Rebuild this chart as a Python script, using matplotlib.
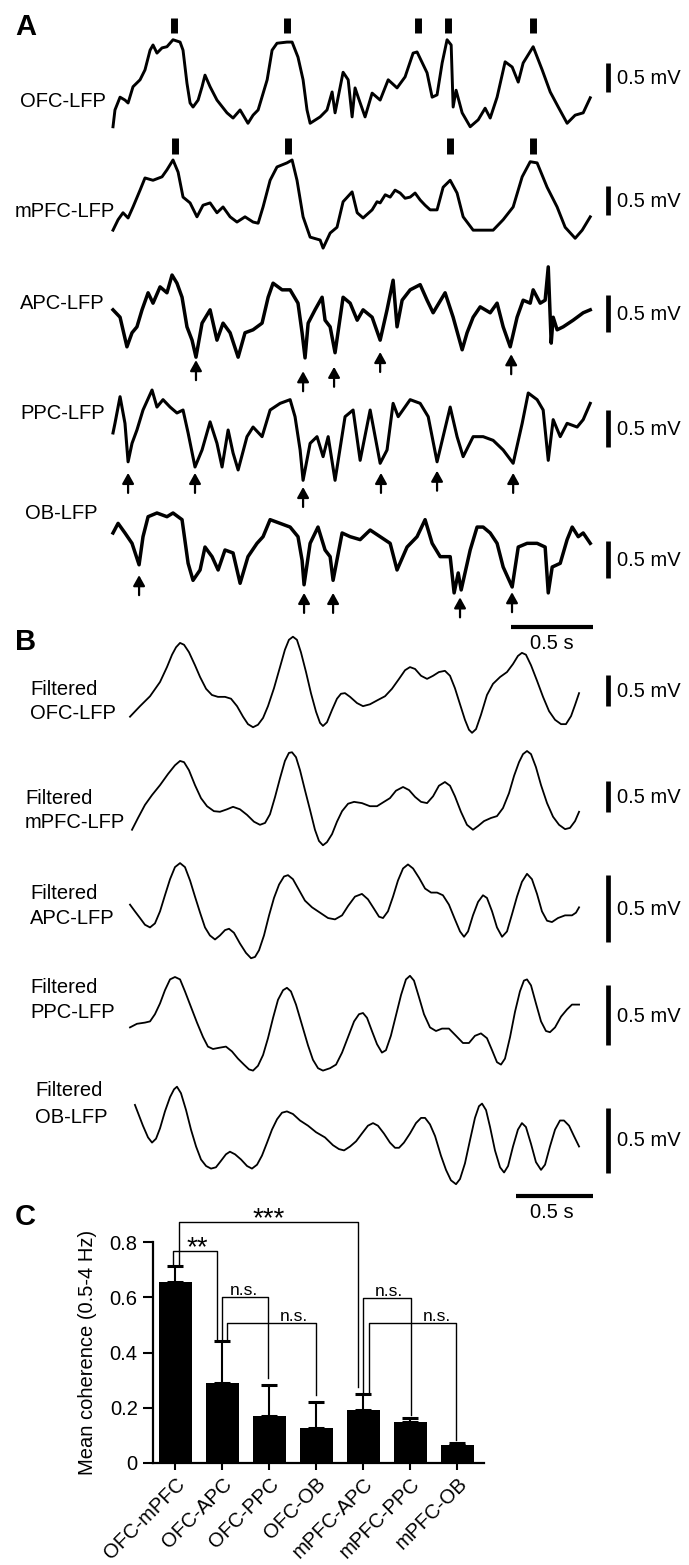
import matplotlib.pyplot as plt
import matplotlib.transforms as mtransforms
import numpy as np

plt.rcParams['font.family'] = ['Liberation Sans', 'DejaVu Sans']
plt.rcParams['font.size'] = 14.5

# ---------------- panel A: raw LFP, (time s, mV) ----------------
ofc_lfp = np.array([
    [0.000, -0.72], [0.012, -0.43], [0.043, -0.21], [0.073, -0.26], [0.092, -0.31],
    [0.122, -0.03], [0.165, 0.09], [0.195, 0.26], [0.226, 0.60], [0.244, 0.69],
    [0.268, 0.55], [0.299, 0.64], [0.329, 0.66], [0.366, 0.78], [0.409, 0.74],
    [0.427, 0.60], [0.451, 0.03], [0.470, -0.31], [0.488, -0.38], [0.519, -0.26],
    [0.543, -0.03], [0.561, 0.17], [0.592, -0.03], [0.634, -0.26], [0.695, -0.48],
    [0.732, -0.57], [0.775, -0.43], [0.823, -0.66], [0.854, -0.52], [0.885, -0.43],
    [0.940, 0.09], [0.970, 0.60], [1.000, 0.72], [1.061, 0.74], [1.092, 0.74],
    [1.128, 0.48], [1.159, 0.09], [1.183, -0.43], [1.202, -0.66], [1.263, -0.55],
    [1.305, -0.43], [1.336, -0.12], [1.354, -0.48], [1.403, 0.22], [1.434, 0.09],
    [1.458, -0.55], [1.476, -0.05], [1.495, -0.21], [1.537, -0.55], [1.580, -0.14],
    [1.629, -0.26], [1.678, 0.09], [1.732, -0.05], [1.781, 0.14], [1.830, 0.55],
    [1.854, 0.57], [1.915, 0.21], [1.946, -0.21], [1.976, -0.17], [2.007, 0.38],
    [2.037, 0.78], [2.062, 0.69], [2.074, -0.38], [2.092, -0.09], [2.129, -0.48],
    [2.178, -0.72], [2.227, -0.60], [2.269, -0.40], [2.300, -0.57], [2.342, -0.21],
    [2.391, 0.40], [2.434, 0.31], [2.471, 0.05], [2.501, 0.38], [2.562, 0.66],
    [2.617, 0.26], [2.666, -0.12], [2.715, -0.38], [2.769, -0.66], [2.818, -0.52],
    [2.867, -0.48], [2.910, -0.22]])

mpfc_lfp = np.array([
    [0.000, -0.52], [0.031, -0.34], [0.061, -0.22], [0.092, -0.31], [0.122, -0.12],
    [0.165, 0.17], [0.195, 0.38], [0.244, 0.34], [0.299, 0.40], [0.329, 0.52],
    [0.366, 0.69], [0.397, 0.48], [0.427, 0.05], [0.470, -0.05], [0.512, -0.29],
    [0.549, -0.09], [0.592, -0.05], [0.634, -0.22], [0.671, -0.12], [0.714, -0.29],
    [0.756, -0.38], [0.805, -0.29], [0.854, -0.38], [0.885, -0.40], [0.915, -0.12],
    [0.958, 0.34], [1.000, 0.57], [1.061, 0.64], [1.092, 0.69], [1.122, 0.34],
    [1.159, -0.29], [1.202, -0.64], [1.263, -0.69], [1.281, -0.83], [1.324, -0.57],
    [1.366, -0.47], [1.403, -0.03], [1.458, 0.14], [1.489, -0.22], [1.525, -0.31],
    [1.580, -0.17], [1.610, -0.03], [1.629, -0.05], [1.660, 0.09], [1.690, 0.05],
    [1.720, 0.17], [1.751, 0.12], [1.781, 0.03], [1.812, 0.05], [1.842, 0.12],
    [1.873, 0.00], [1.903, -0.09], [1.934, -0.17], [1.976, -0.17], [2.013, 0.22],
    [2.056, 0.34], [2.098, 0.12], [2.135, -0.29], [2.196, -0.52], [2.257, -0.52],
    [2.318, -0.52], [2.379, -0.34], [2.440, -0.12], [2.495, 0.40], [2.544, 0.66],
    [2.586, 0.64], [2.647, 0.22], [2.708, -0.12], [2.757, -0.47], [2.818, -0.66],
    [2.861, -0.52], [2.910, -0.29]])

apc_lfp = np.array([
    [0.000, 0.07], [0.043, -0.03], [0.085, -0.43], [0.116, -0.24], [0.146, -0.16],
    [0.177, 0.07], [0.214, 0.30], [0.244, 0.16], [0.287, 0.38], [0.329, 0.30],
    [0.360, 0.54], [0.390, 0.43], [0.421, 0.24], [0.451, -0.16], [0.482, -0.34],
    [0.506, -0.57], [0.543, -0.11], [0.592, 0.07], [0.634, -0.34], [0.671, -0.11],
    [0.714, -0.24], [0.763, -0.57], [0.805, -0.24], [0.854, -0.20], [0.909, -0.11],
    [0.946, 0.24], [0.976, 0.43], [1.031, 0.34], [1.080, 0.34], [1.128, 0.16],
    [1.153, -0.24], [1.171, -0.58], [1.190, -0.11], [1.232, 0.07], [1.275, 0.24],
    [1.293, -0.07], [1.324, -0.16], [1.354, -0.51], [1.403, 0.24], [1.446, 0.16],
    [1.489, -0.07], [1.525, 0.07], [1.580, -0.03], [1.629, -0.34], [1.671, 0.07],
    [1.708, 0.47], [1.732, -0.16], [1.763, 0.20], [1.812, 0.34], [1.873, 0.41],
    [1.915, 0.20], [1.952, 0.03], [2.025, 0.30], [2.074, -0.03], [2.129, -0.47],
    [2.159, -0.24], [2.196, -0.03], [2.239, 0.11], [2.300, 0.03], [2.342, 0.16],
    [2.379, -0.16], [2.422, -0.43], [2.464, -0.03], [2.501, 0.20], [2.544, 0.16],
    [2.562, 0.34], [2.605, 0.16], [2.635, 0.20], [2.654, 0.65], [2.672, -0.38],
    [2.684, -0.03], [2.708, -0.20], [2.745, -0.16], [2.806, -0.07], [2.867, 0.03],
    [2.910, 0.07]])

ppc_lfp = np.array([
    [0.000, -0.04], [0.012, 0.09], [0.043, 0.45], [0.073, 0.09], [0.092, -0.43],
    [0.116, -0.18], [0.146, 0.00], [0.183, 0.27], [0.238, 0.54], [0.268, 0.31],
    [0.305, 0.41], [0.348, 0.31], [0.390, 0.23], [0.427, 0.27], [0.458, -0.04],
    [0.500, -0.50], [0.543, -0.27], [0.592, 0.11], [0.634, -0.18], [0.665, -0.50],
    [0.702, 0.00], [0.732, -0.31], [0.763, -0.54], [0.817, -0.09], [0.854, 0.04],
    [0.909, -0.09], [0.958, 0.27], [1.019, 0.36], [1.080, 0.41], [1.110, 0.18],
    [1.141, -0.27], [1.159, -0.68], [1.202, -0.18], [1.244, -0.09], [1.281, -0.36],
    [1.312, -0.09], [1.354, -0.68], [1.415, 0.18], [1.464, 0.27], [1.507, -0.41],
    [1.568, 0.27], [1.629, -0.45], [1.671, -0.27], [1.708, 0.36], [1.739, 0.18],
    [1.812, 0.41], [1.873, 0.36], [1.922, 0.18], [1.976, -0.43], [2.056, 0.31],
    [2.098, -0.09], [2.135, -0.36], [2.196, -0.09], [2.257, -0.09], [2.318, -0.14],
    [2.379, -0.27], [2.440, -0.45], [2.495, 0.09], [2.532, 0.50], [2.586, 0.41],
    [2.623, 0.27], [2.654, -0.41], [2.684, 0.14], [2.727, -0.09], [2.769, 0.09],
    [2.830, 0.04], [2.867, 0.14], [2.910, 0.36]])

ob_lfp = np.array([
    [0.000, 0.23], [0.031, 0.36], [0.073, 0.23], [0.116, 0.09], [0.159, -0.20],
    [0.183, 0.18], [0.214, 0.45], [0.268, 0.50], [0.329, 0.45], [0.366, 0.50],
    [0.421, 0.41], [0.458, -0.18], [0.488, -0.41], [0.531, -0.27], [0.561, 0.04],
    [0.604, -0.09], [0.641, -0.27], [0.683, 0.00], [0.732, -0.04], [0.775, -0.45],
    [0.823, -0.09], [0.878, 0.09], [0.915, 0.18], [0.958, 0.41], [1.019, 0.36],
    [1.080, 0.31], [1.128, 0.18], [1.153, -0.14], [1.165, -0.47], [1.202, 0.09],
    [1.250, 0.31], [1.293, 0.00], [1.324, -0.09], [1.342, -0.41], [1.397, 0.23],
    [1.446, 0.18], [1.507, 0.14], [1.568, 0.27], [1.629, 0.18], [1.690, 0.09],
    [1.732, -0.27], [1.793, 0.04], [1.854, 0.18], [1.903, 0.41], [1.946, 0.09],
    [1.995, -0.09], [2.056, -0.09], [2.080, -0.58], [2.105, -0.31], [2.123, -0.54],
    [2.178, 0.00], [2.220, 0.31], [2.257, 0.31], [2.300, 0.23], [2.342, 0.09],
    [2.379, -0.23], [2.434, -0.50], [2.471, 0.04], [2.525, 0.09], [2.586, 0.09],
    [2.635, 0.04], [2.654, -0.58], [2.678, -0.23], [2.727, -0.18], [2.769, 0.14],
    [2.800, 0.31], [2.837, 0.18], [2.867, 0.23], [2.910, 0.09]])

# ---------------- panel B: filtered LFP, (time s, mV) ----------------
ofc_filt = np.array([
    [0.000, -0.35], [0.065, -0.18], [0.130, -0.02], [0.195, 0.21], [0.240, 0.45],
    [0.273, 0.65], [0.299, 0.77], [0.325, 0.84], [0.351, 0.81], [0.383, 0.69],
    [0.422, 0.48], [0.455, 0.29], [0.494, 0.10], [0.532, 0.00], [0.571, -0.03],
    [0.617, -0.03], [0.656, -0.06], [0.695, -0.18], [0.734, -0.35], [0.766, -0.47],
    [0.799, -0.52], [0.831, -0.48], [0.864, -0.37], [0.896, -0.18], [0.935, 0.11],
    [0.974, 0.45], [1.006, 0.73], [1.032, 0.89], [1.058, 0.94], [1.084, 0.89],
    [1.110, 0.69], [1.143, 0.37], [1.175, 0.03], [1.208, -0.27], [1.234, -0.45],
    [1.253, -0.50], [1.279, -0.44], [1.312, -0.24], [1.344, -0.06], [1.370, 0.02],
    [1.396, 0.03], [1.429, -0.03], [1.474, -0.13], [1.513, -0.18], [1.558, -0.15],
    [1.610, -0.08], [1.656, -0.02], [1.701, 0.10], [1.747, 0.26], [1.786, 0.40],
    [1.818, 0.45], [1.851, 0.42], [1.890, 0.31], [1.929, 0.26], [1.968, 0.31],
    [2.006, 0.37], [2.045, 0.39], [2.078, 0.31], [2.110, 0.11], [2.143, -0.15],
    [2.175, -0.40], [2.201, -0.56], [2.221, -0.61], [2.247, -0.55], [2.279, -0.32],
    [2.318, 0.00], [2.357, 0.18], [2.403, 0.29], [2.448, 0.37], [2.487, 0.50],
    [2.519, 0.63], [2.545, 0.68], [2.571, 0.65], [2.604, 0.48], [2.643, 0.23],
    [2.682, -0.03], [2.721, -0.26], [2.760, -0.40], [2.799, -0.47], [2.831, -0.47],
    [2.864, -0.34], [2.890, -0.16], [2.916, 0.03]])

mpfc_filt = np.array([
    [0.013, -0.48], [0.052, -0.29], [0.097, -0.08], [0.143, 0.08], [0.195, 0.24],
    [0.247, 0.42], [0.292, 0.56], [0.325, 0.63], [0.351, 0.61], [0.383, 0.48],
    [0.422, 0.24], [0.461, 0.03], [0.500, -0.10], [0.545, -0.18], [0.584, -0.19],
    [0.630, -0.15], [0.669, -0.11], [0.714, -0.15], [0.760, -0.24], [0.805, -0.35],
    [0.844, -0.40], [0.877, -0.37], [0.909, -0.23], [0.942, 0.05], [0.974, 0.35],
    [1.006, 0.63], [1.032, 0.76], [1.052, 0.77], [1.078, 0.69], [1.104, 0.48],
    [1.136, 0.16], [1.169, -0.16], [1.201, -0.48], [1.227, -0.66], [1.253, -0.73],
    [1.279, -0.68], [1.312, -0.55], [1.344, -0.35], [1.377, -0.18], [1.416, -0.06],
    [1.455, -0.03], [1.506, -0.05], [1.558, -0.10], [1.604, -0.10], [1.649, -0.03],
    [1.688, 0.03], [1.727, 0.15], [1.773, 0.21], [1.812, 0.16], [1.851, 0.05],
    [1.890, -0.03], [1.929, -0.05], [1.968, 0.06], [2.006, 0.23], [2.045, 0.29],
    [2.078, 0.23], [2.110, 0.06], [2.149, -0.19], [2.188, -0.40], [2.227, -0.48],
    [2.260, -0.42], [2.299, -0.34], [2.344, -0.29], [2.383, -0.26], [2.422, -0.13],
    [2.461, 0.11], [2.494, 0.39], [2.526, 0.61], [2.552, 0.74], [2.578, 0.79],
    [2.604, 0.74], [2.636, 0.53], [2.669, 0.24], [2.708, -0.05], [2.747, -0.27],
    [2.786, -0.40], [2.825, -0.47], [2.857, -0.45], [2.890, -0.34], [2.916, -0.19]])

apc_filt = np.array([
    [0.000, 0.04], [0.032, -0.01], [0.065, -0.06], [0.097, -0.11], [0.130, -0.13],
    [0.162, -0.10], [0.195, -0.01], [0.227, 0.11], [0.260, 0.23], [0.292, 0.32],
    [0.325, 0.35], [0.357, 0.32], [0.390, 0.22], [0.422, 0.10], [0.455, -0.02],
    [0.487, -0.13], [0.519, -0.19], [0.552, -0.22], [0.584, -0.19], [0.617, -0.15],
    [0.643, -0.14], [0.675, -0.17], [0.714, -0.25], [0.753, -0.32], [0.786, -0.36],
    [0.812, -0.35], [0.838, -0.30], [0.870, -0.19], [0.903, -0.04], [0.935, 0.09],
    [0.968, 0.19], [1.000, 0.25], [1.026, 0.26], [1.058, 0.23], [1.097, 0.15],
    [1.136, 0.07], [1.182, 0.02], [1.234, -0.02], [1.286, -0.06], [1.331, -0.07],
    [1.377, -0.04], [1.416, 0.03], [1.461, 0.10], [1.506, 0.12], [1.545, 0.08],
    [1.584, 0.01], [1.617, -0.05], [1.643, -0.06], [1.675, -0.01], [1.708, 0.10],
    [1.740, 0.22], [1.773, 0.31], [1.805, 0.34], [1.838, 0.31], [1.877, 0.24],
    [1.916, 0.16], [1.955, 0.13], [1.994, 0.13], [2.032, 0.11], [2.071, 0.04],
    [2.110, -0.07], [2.143, -0.16], [2.169, -0.20], [2.195, -0.16], [2.227, -0.04],
    [2.260, 0.06], [2.292, 0.11], [2.318, 0.09], [2.351, -0.01], [2.383, -0.13],
    [2.416, -0.20], [2.448, -0.16], [2.481, -0.03], [2.513, 0.10], [2.545, 0.21],
    [2.578, 0.27], [2.610, 0.23], [2.643, 0.12], [2.675, -0.01], [2.708, -0.08],
    [2.740, -0.09], [2.779, -0.06], [2.825, -0.04], [2.870, -0.04], [2.896, -0.02],
    [2.916, 0.02]])

ppc_filt = np.array([
    [0.000, -0.02], [0.045, 0.01], [0.097, 0.02], [0.130, 0.03], [0.162, 0.09],
    [0.195, 0.18], [0.227, 0.29], [0.260, 0.38], [0.292, 0.40], [0.325, 0.38],
    [0.357, 0.28], [0.396, 0.15], [0.435, 0.02], [0.474, -0.10], [0.506, -0.18],
    [0.539, -0.20], [0.578, -0.19], [0.623, -0.18], [0.662, -0.22], [0.701, -0.28],
    [0.740, -0.33], [0.773, -0.37], [0.799, -0.38], [0.831, -0.34], [0.864, -0.25],
    [0.896, -0.11], [0.929, 0.06], [0.961, 0.21], [0.994, 0.29], [1.019, 0.31],
    [1.045, 0.28], [1.078, 0.17], [1.117, 0.00], [1.156, -0.17], [1.188, -0.29],
    [1.221, -0.36], [1.253, -0.38], [1.299, -0.36], [1.338, -0.33], [1.377, -0.23],
    [1.416, -0.10], [1.455, 0.03], [1.487, 0.09], [1.513, 0.10], [1.539, 0.06],
    [1.571, -0.05], [1.604, -0.16], [1.636, -0.23], [1.662, -0.21], [1.694, -0.09],
    [1.727, 0.08], [1.760, 0.25], [1.792, 0.38], [1.818, 0.41], [1.844, 0.37],
    [1.877, 0.23], [1.909, 0.09], [1.948, -0.02], [1.987, -0.05], [2.026, -0.03],
    [2.071, -0.03], [2.117, -0.09], [2.162, -0.15], [2.201, -0.15], [2.240, -0.09],
    [2.279, -0.07], [2.318, -0.11], [2.351, -0.21], [2.383, -0.31], [2.409, -0.33],
    [2.435, -0.28], [2.468, -0.10], [2.500, 0.11], [2.532, 0.28], [2.558, 0.37],
    [2.578, 0.38], [2.604, 0.33], [2.636, 0.18], [2.669, 0.03], [2.701, -0.05],
    [2.727, -0.06], [2.760, -0.02], [2.799, 0.07], [2.838, 0.13], [2.870, 0.17],
    [2.916, 0.17]])

ob_filt = np.array([
    [0.032, 0.27], [0.058, 0.19], [0.084, 0.11], [0.117, 0.02], [0.143, -0.02],
    [0.169, 0.01], [0.195, 0.09], [0.227, 0.22], [0.260, 0.33], [0.286, 0.39],
    [0.305, 0.41], [0.331, 0.36], [0.364, 0.23], [0.396, 0.08], [0.429, -0.05],
    [0.461, -0.15], [0.494, -0.20], [0.526, -0.22], [0.558, -0.21], [0.591, -0.16],
    [0.623, -0.11], [0.649, -0.09], [0.682, -0.11], [0.721, -0.15], [0.760, -0.20],
    [0.792, -0.22], [0.825, -0.19], [0.857, -0.12], [0.890, -0.02], [0.922, 0.08],
    [0.955, 0.16], [0.987, 0.21], [1.019, 0.22], [1.058, 0.20], [1.104, 0.15],
    [1.156, 0.11], [1.208, 0.06], [1.266, 0.02], [1.318, -0.04], [1.357, -0.07],
    [1.390, -0.08], [1.429, -0.05], [1.468, -0.01], [1.506, 0.05], [1.545, 0.11],
    [1.578, 0.13], [1.610, 0.11], [1.649, 0.05], [1.688, -0.02], [1.721, -0.06],
    [1.747, -0.06], [1.779, -0.02], [1.818, 0.05], [1.857, 0.13], [1.890, 0.17],
    [1.916, 0.17], [1.948, 0.12], [1.981, 0.03], [2.019, -0.12], [2.052, -0.23],
    [2.084, -0.31], [2.117, -0.34], [2.143, -0.30], [2.175, -0.18], [2.208, 0.00],
    [2.240, 0.17], [2.266, 0.26], [2.286, 0.28], [2.312, 0.23], [2.338, 0.10],
    [2.370, -0.08], [2.403, -0.21], [2.429, -0.25], [2.455, -0.20], [2.487, -0.05],
    [2.519, 0.08], [2.545, 0.13], [2.571, 0.10], [2.604, -0.03], [2.636, -0.17],
    [2.669, -0.23], [2.695, -0.19], [2.727, -0.05], [2.760, 0.08], [2.792, 0.15],
    [2.818, 0.15], [2.851, 0.11], [2.883, 0.03], [2.916, -0.05]])

# peak markers (s) and trough arrows (s, mV of arrow tip)
ofc_peaks = [0.369, 1.058, 1.857, 2.043, 2.561]
mpfc_peaks = [0.375, 1.070, 2.055, 2.561]
apc_troughs = [0.506, 1.159, 1.348, 1.629, 2.428]
apc_tips = [-0.61, -0.76, -0.70, -0.50, -0.53]
ppc_troughs = [0.092, 0.500, 1.159, 1.634, 1.976, 2.440]
ppc_tips = [-0.58, -0.58, -0.77, -0.58, -0.55, -0.58]
ob_troughs = [0.159, 1.165, 1.342, 2.116, 2.433]
ob_tips = [-0.34, -0.58, -0.58, -0.64, -0.57]

# ---------------- panel C: coherence ----------------
pairs = ['OFC-mPFC', 'OFC-APC', 'OFC-PPC', 'OFC-OB', 'mPFC-APC', 'mPFC-PPC', 'mPFC-OB']
coh_mean = [0.656, 0.290, 0.170, 0.127, 0.192, 0.148, 0.066]
coh_sem = [0.058, 0.152, 0.113, 0.093, 0.058, 0.015, 0.008]
comparisons = [(0, 4, '***'), (0, 1, '**'), (1, 2, 'n.s.'), (1, 3, 'n.s.'),
               (4, 5, 'n.s.'), (4, 6, 'n.s.')]

# ---------------- layout ----------------
W, H = 689, 1565
fig = plt.figure(figsize=(W / 100, H / 100), dpi=100)


def px_axes(x0, x1, y0, y1):
    return fig.add_axes([x0 / W, 1 - y1 / H, (x1 - x0) / W, (y1 - y0) / H])


def trace_axes(x0, x1, pps, yc, ppmv, half=90):
    ax = px_axes(x0, x1, yc - half, yc + half)
    ax.set_xlim(0, (x1 - x0) / pps)
    ax.set_ylim(-half / ppmv, half / ppmv)
    ax.axis('off')
    return ax


def mv_bar(ax, tx, ttx, bottom, ppmv):
    ax.plot([tx, tx], [bottom, bottom + 0.5], color='k', lw=3.4,
            solid_capstyle='butt', clip_on=False)
    ax.text(ttx, bottom + 0.25 - 6.5 / ppmv, '0.5 mV',
            ha='left', va='baseline', clip_on=False)


def arrows(ax, ts, tips):
    for t, tip in zip(ts, tips):
        ax.annotate('', xy=(t, tip), xytext=(0, -14.4), textcoords='offset points',
                    arrowprops=dict(arrowstyle='-|>,head_length=0.45,head_width=0.25',
                                    mutation_scale=14, color='k', lw=1.6,
                                    shrinkA=0, shrinkB=0))


def px_text(x, y, s, **kw):
    fig.text(x / W, 1 - y / H, s, **kw)


# panel A
a_rows = [
    ('OFC-LFP', ofc_lfp, 85, 58, 2.1, -0.12, 20, 107),
    ('mPFC-LFP', mpfc_lfp, 200, 58, 2.1, -0.26, 15, 217),
    ('APC-LFP', apc_lfp, 315, 74, 2.5, -0.23, 20, 309),
    ('PPC-LFP', ppc_lfp, 430, 74, 2.2, -0.23, 20, 419),
    ('OB-LFP', ob_lfp, 550, 74, 2.5, -0.38, 25, 519),
]
a_axes = []
for label, data, yc, ppmv, lw, bar0, lx, ly in a_rows:
    ax = trace_axes(113, 590, 164, yc, ppmv)
    ax.plot(data[:, 0], data[:, 1], color='k', lw=lw, clip_on=False)
    mv_bar(ax, 3.021, 3.073, bar0, ppmv)
    px_text(lx, ly, label, ha='left', va='baseline')
    a_axes.append(ax)

a_axes[0].vlines(ofc_peaks, 0.90, 1.16, color='k', lw=5, clip_on=False)
a_axes[1].vlines(mpfc_peaks, 0.79, 1.07, color='k', lw=5, clip_on=False)
arrows(a_axes[2], apc_troughs, apc_tips)
arrows(a_axes[3], ppc_troughs, ppc_tips)
arrows(a_axes[4], ob_troughs, ob_tips)
a_axes[4].plot([2.427, 2.927], [-1.04, -1.04], color='k', lw=3, solid_capstyle='butt',
               clip_on=False)
a_axes[4].text(2.677, -1.34, '0.5 s', ha='center', va='baseline', clip_on=False)

# panel B
b_rows = [
    ('OFC-LFP', ofc_filt, 695, 62, -0.18, 30, (695, 719)),
    ('mPFC-LFP', mpfc_filt, 800, 62, -0.19, 25, (804, 828)),
    ('APC-LFP', apc_filt, 910, 134, -0.24, 30, (899, 924)),
    ('PPC-LFP', ppc_filt, 1025, 120, -0.17, 30, (993, 1018)),
    ('OB-LFP', ob_filt, 1140, 130, -0.25, 35, (1096, 1123)),
]
b_axes = []
for label, data, yc, ppmv, bar0, lx, (ly1, ly2) in b_rows:
    ax = trace_axes(130, 579, 154, yc, ppmv)
    ax.plot(data[:, 0], data[:, 1], color='k', lw=1.3, clip_on=False)
    mv_bar(ax, 3.107, 3.162, bar0, ppmv)
    px_text(lx, ly1, 'Filtered', ha='left', va='baseline')
    px_text(lx, ly2, label, ha='left', va='baseline')
    b_axes.append(ax)

b_axes[4].plot([2.506, 3.006], [-0.43, -0.43], color='k', lw=3, solid_capstyle='butt',
               clip_on=False)
b_axes[4].text(2.740, -0.60, '0.5 s', ha='center', va='baseline', clip_on=False)

# panel letters
for letter, y in [('A', 35), ('B', 650), ('C', 1225)]:
    px_text(15, y, letter, fontsize=21, fontweight='bold', ha='left', va='baseline')

# panel C
axc = px_axes(153, 484, 1195, 1463)
x = np.arange(len(pairs))
axc.bar(x, coh_mean, width=0.7, color='k', zorder=2)
axc.errorbar(x, coh_mean, yerr=[np.zeros(len(x)), coh_sem], fmt='none', ecolor='k',
             elinewidth=1.5, capsize=6, capthick=2.2, zorder=3)
axc.set_xlim(-0.47, 6.57)
axc.set_ylim(0, 0.971)
for side in ('top', 'right'):
    axc.spines[side].set_visible(False)
for side in ('left', 'bottom'):
    axc.spines[side].set_linewidth(1.6)
axc.spines['left'].set_bounds(0, 0.8)
axc.set_yticks([0, 0.2, 0.4, 0.6, 0.8])
axc.set_yticklabels(['0', '0.2', '0.4', '0.6', '0.8'])
axc.set_xticks(x)
axc.set_xticklabels(pairs, rotation=45, ha='right', rotation_mode='anchor')
shift = mtransforms.ScaledTranslation(11 / 100, -2 / 100, fig.dpi_scale_trans)
for lab in axc.get_xticklabels():
    lab.set_transform(lab.get_transform() + shift)
axc.tick_params(axis='y', length=7, width=1.5, pad=4)
axc.tick_params(axis='x', length=5, width=1.5, pad=3)
axc.set_ylabel('Mean coherence (0.5-4 Hz)')
axc.yaxis.set_label_coords(-0.169, 0.4 / 0.971)

tops = np.array(coh_mean) + np.array(coh_sem)
bracket_y = [0.873, 0.768, 0.601, 0.507, 0.598, 0.507]
bracket_dx = [(0.075, -0.1), (-0.05, -0.1), (0.0, -0.02), (0.1, 0.0), (0.0, 0.02), (0.13, -0.02)]
bracket_gap = [0.025, 0.0, 0.025, 0.026, 0.011, 0.009]
label_x = [2.0, 0.47, 1.46, 2.53, 4.55, 5.57]
for (i, j, lab), h, (dl, dr), gap, lx in zip(comparisons, bracket_y, bracket_dx,
                                             bracket_gap, label_x):
    xl, xr = i + dl, j + dr
    axc.plot([xl, xl, xr, xr], [tops[i], h, h, tops[j] + gap], color='k', lw=1.0,
             clip_on=False, zorder=4)
    if lab.startswith('*'):
        axc.text(lx, h - 0.015, lab, fontsize=20, ha='center', va='baseline')
    else:
        axc.text(lx, h + 0.007, lab, fontsize=12.5, ha='center', va='baseline')

fig.savefig('out.png', dpi=100)
